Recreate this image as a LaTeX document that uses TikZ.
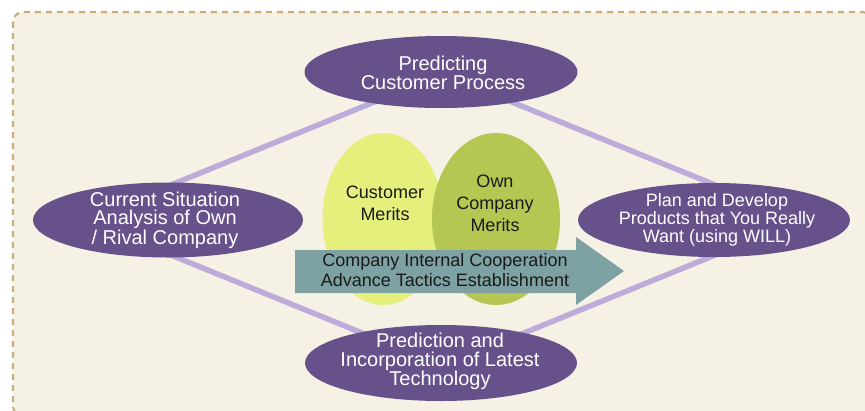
\documentclass[tikz,border=0pt]{standalone}
\usepackage{fontspec}
\setmainfont{Liberation Sans}
\usetikzlibrary{shapes.geometric}

\definecolor{bgfill}{HTML}{F5F1E4}
\definecolor{frameline}{HTML}{C8AE7C}
\definecolor{plum}{HTML}{67518B}
\definecolor{lavender}{HTML}{BDACDA}
\definecolor{limegreen}{HTML}{E4F07B}
\definecolor{olivegreen}{HTML}{B5C652}
\definecolor{arrowteal}{HTML}{7EA1A3}
\definecolor{darktext}{HTML}{1A1A1A}

\begin{document}
\begin{tikzpicture}[x=1pt,y=-1pt,
  hub/.style={ellipse, fill=plum, inner sep=0pt, minimum width=272pt, minimum height=74pt},
  hubtext/.style={text=white, align=center, inner sep=0pt, font=\fontsize{20}{19}\selectfont},
  merit/.style={ellipse, inner sep=0pt, minimum height=172pt},
  merittext/.style={text=darktext, align=center, inner sep=0pt, font=\fontsize{18}{22}\selectfont},
  link/.style={draw=lavender, line width=5.5pt}
]
\useasboundingbox (0,0) rectangle (865,410);
\clip (0,0) rectangle (865,410);

% dashed panel
\draw[frameline, fill=bgfill, line width=2.2pt, dash pattern=on 6pt off 5pt,
      rounded corners=10pt] (13,12) rectangle (872,416);

% diamond of links behind the four process ellipses
\coordinate (dt) at (443,74);
\coordinate (dl) at (85,220);
\coordinate (dr) at (801,220);
\coordinate (db) at (443,366);
\draw[link] (dt) -- (dl) -- (db) -- (dr) -- cycle;

% overlapping merit ellipses
\node[merit, fill=limegreen, minimum width=121pt] (cust) at (383,219) {};
\node[merit, fill=olivegreen, minimum width=128pt] (own) at (496,219) {};
\node[merittext] at (385,203) {Customer\\Merits};
\node[merittext] at (495,203) {Own\\Company\\Merits};

% cooperation arrow
\fill[arrowteal] (295,250) -- (576,250) -- (576,237) -- (624,271)
  -- (576,305) -- (576,293) -- (295,293) -- cycle;
\node[text=darktext, align=center, inner sep=0pt, font=\fontsize{18}{20}\selectfont]
  (coop) at (445,270) {Company Internal Cooperation\\Advance Tactics Establishment};

% process ellipses
\node[hub, minimum height=72pt, minimum width=273pt] (top) at (441,72) {};
\node[hub, minimum height=75pt, minimum width=270pt] (left) at (168,220) {};
\node[hub] (right) at (714,220) {};
\node[hub, minimum height=76pt] (bottom) at (441,363) {};

\node[hubtext] at (443,73) {Predicting\\Customer Process};
\node[hubtext, font=\fontsize{20}{18.3}\selectfont] at (165,220)
  {Current Situation\\Analysis of Own\\/ Rival Company};
\node[hubtext, font=\fontsize{18}{18.3}\selectfont] at (717,220)
  {Plan and Develop\\Products that You Really\\Want (using WILL)};
\node[hubtext] at (440,361)
  {Prediction and\\Incorporation of Latest\\Technology};
\end{tikzpicture}
\end{document}
